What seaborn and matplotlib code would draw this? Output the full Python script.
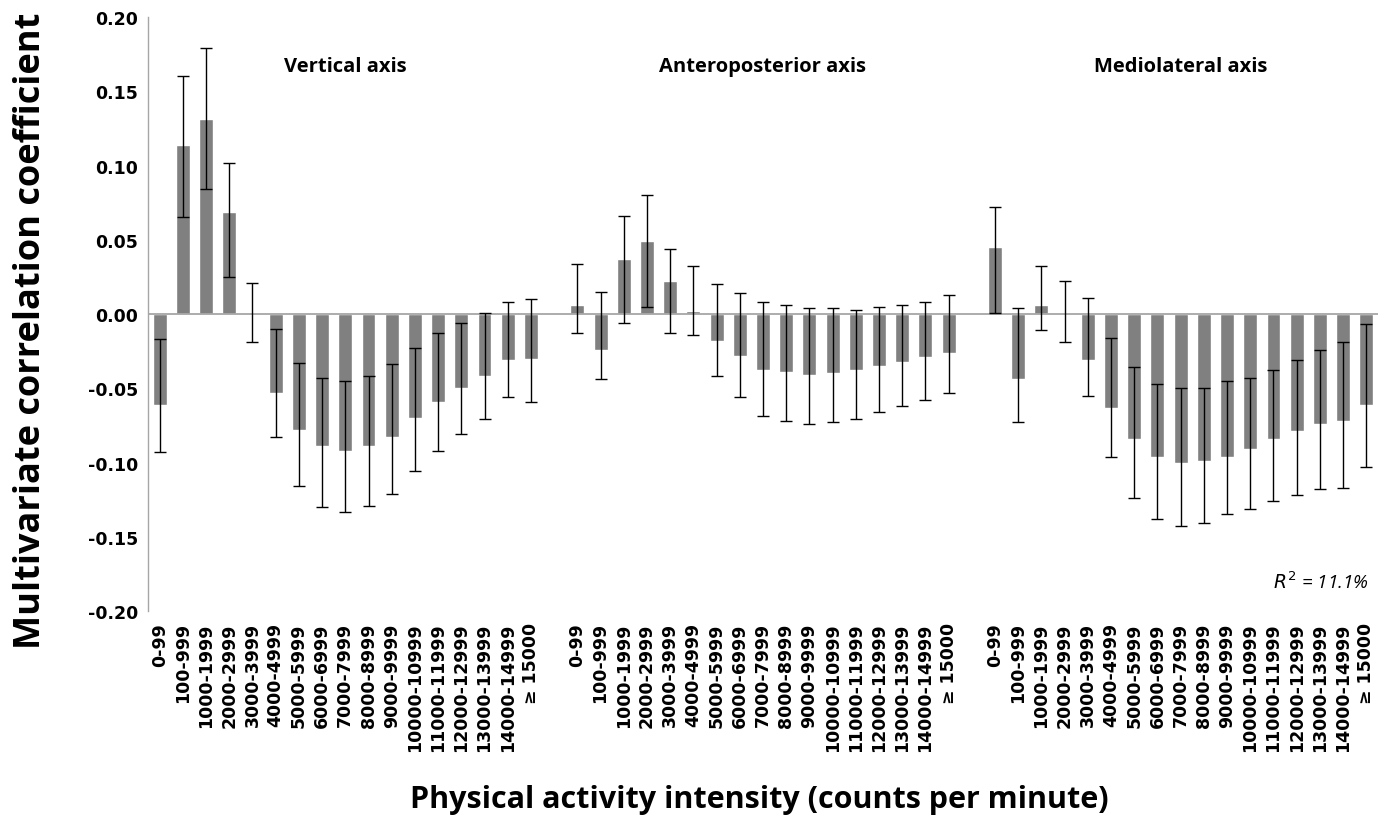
import numpy as np
import pandas as pd
import seaborn as sns
import matplotlib.pyplot as plt

# intensity bins (same for all three axes)
bins = ['0-99', '100-999', '1000-1999', '2000-2999', '3000-3999', '4000-4999',
        '5000-5999', '6000-6999', '7000-7999', '8000-8999', '9000-9999',
        '10000-10999', '11000-11999', '12000-12999', '13000-13999',
        '14000-14999', '\u2265 15000']
groups = ['Vertical axis', 'Anteroposterior axis', 'Mediolateral axis']

# coefficient, lower and upper CI
vert = [-0.061, 0.114, 0.131, 0.069, 0.001, -0.053, -0.078, -0.089, -0.092,
        -0.089, -0.083, -0.070, -0.059, -0.050, -0.042, -0.031, -0.030]
vert_lo = [-0.093, 0.065, 0.084, 0.025, -0.019, -0.083, -0.116, -0.130, -0.133,
           -0.129, -0.121, -0.106, -0.092, -0.081, -0.071, -0.056, -0.059]
vert_hi = [-0.017, 0.160, 0.179, 0.102, 0.021, -0.010, -0.033, -0.043, -0.045,
           -0.042, -0.034, -0.023, -0.013, -0.006, 0.001, 0.008, 0.010]

ap = [0.006, -0.024, 0.037, 0.049, 0.022, 0.002, -0.018, -0.028, -0.038,
      -0.039, -0.041, -0.040, -0.038, -0.035, -0.032, -0.029, -0.026]
ap_lo = [-0.013, -0.044, -0.006, 0.005, -0.013, -0.014, -0.042, -0.056, -0.069,
         -0.072, -0.074, -0.073, -0.071, -0.066, -0.062, -0.058, -0.053]
ap_hi = [0.034, 0.015, 0.066, 0.080, 0.044, 0.032, 0.020, 0.014, 0.008,
         0.006, 0.004, 0.004, 0.003, 0.005, 0.006, 0.008, 0.013]

ml = [0.045, -0.044, 0.006, 0.001, -0.031, -0.063, -0.084, -0.096, -0.100,
      -0.099, -0.096, -0.091, -0.084, -0.079, -0.074, -0.072, -0.061]
ml_lo = [0.001, -0.073, -0.011, -0.019, -0.055, -0.096, -0.124, -0.138, -0.143,
         -0.141, -0.135, -0.131, -0.126, -0.122, -0.118, -0.117, -0.103]
ml_hi = [0.072, 0.004, 0.032, 0.022, 0.011, -0.016, -0.036, -0.047, -0.050,
         -0.050, -0.045, -0.043, -0.038, -0.031, -0.024, -0.019, -0.007]

yticks = [-0.20, -0.15, -0.10, -0.05, 0.00, 0.05, 0.10, 0.15, 0.20]
ytick_labels = ['-0.20', '-0.15', '-0.10', '-0.05', '0.00', '0.05', '0.10', '0.15', '0.20']
r2_text = '$R^2$ = 11.1%'

sns.set_style('white')
plt.rcParams['font.family'] = ['DejaVu Sans']
plt.rcParams['text.color'] = 'black'
plt.rcParams['xtick.color'] = 'black'
plt.rcParams['ytick.color'] = 'black'

# one empty slot between the groups
nb = len(bins)
rows = []
for g, (v, lo, hi) in enumerate([(vert, vert_lo, vert_hi), (ap, ap_lo, ap_hi), (ml, ml_lo, ml_hi)]):
    for i in range(nb):
        rows.append({'pos': g * (nb + 1) + i, 'label': bins[i], 'group': groups[g],
                     'coef': v[i], 'lo': lo[i], 'hi': hi[i]})
df = pd.DataFrame(rows)

fig = plt.figure(figsize=(13.89, 8.37), dpi=100)
ax = fig.add_axes([0.1066, 0.2688, 0.8854, 0.7097])

sns.barplot(data=df, x='pos', y='coef', native_scale=True, width=0.6,
            color='#808080', saturation=1, errorbar=None, ax=ax, zorder=2)
ax.errorbar(df['pos'], df['coef'],
            yerr=[df['coef'] - df['lo'], df['hi'] - df['coef']],
            fmt='none', ecolor='black', elinewidth=1, capsize=4, capthick=1, zorder=3)

ax.axhline(0, color='#a6a6a6', lw=1.3, zorder=2.5)
ax.set_xlim(-0.5, df['pos'].max() + 0.5)
ax.set_ylim(-0.2, 0.2)
ax.set_yticks(yticks)
ax.set_yticklabels(ytick_labels, fontsize=12.5, fontweight='bold')
ax.set_xticks(df['pos'])
ax.set_xticklabels(df['label'], rotation=90, fontsize=12.5, fontweight='bold')
ax.tick_params(axis='x', length=0, pad=8)
ax.tick_params(axis='y', length=5, width=1, color='#a6a6a6', direction='out', pad=2)
ax.set_xlabel('')
ax.set_ylabel('')
for s in ['top', 'right', 'bottom']:
    ax.spines[s].set_visible(False)
ax.spines['left'].set_color('#a6a6a6')
ax.spines['left'].set_linewidth(1)

for g in range(3):
    ax.text(g * (nb + 1) + (nb - 1) / 2, 0.167, groups[g], ha='center', va='center',
            fontsize=14.5, fontweight='bold', family='Open Sans')
ax.text(df['pos'].max() + 0.1, -0.18, r2_text, ha='right', va='center',
        fontsize=13.5, style='italic', family='Open Sans')

fig.text(0.022, 0.605, 'Multivariate correlation coefficient', rotation=90,
         ha='center', va='center', fontsize=26, fontweight='bold', family='Open Sans')
fig.text(0.547, 0.044, 'Physical activity intensity (counts per minute)',
         ha='center', va='center', fontsize=22, fontweight='bold', family='Open Sans')

fig.savefig('out.png', dpi=100)
